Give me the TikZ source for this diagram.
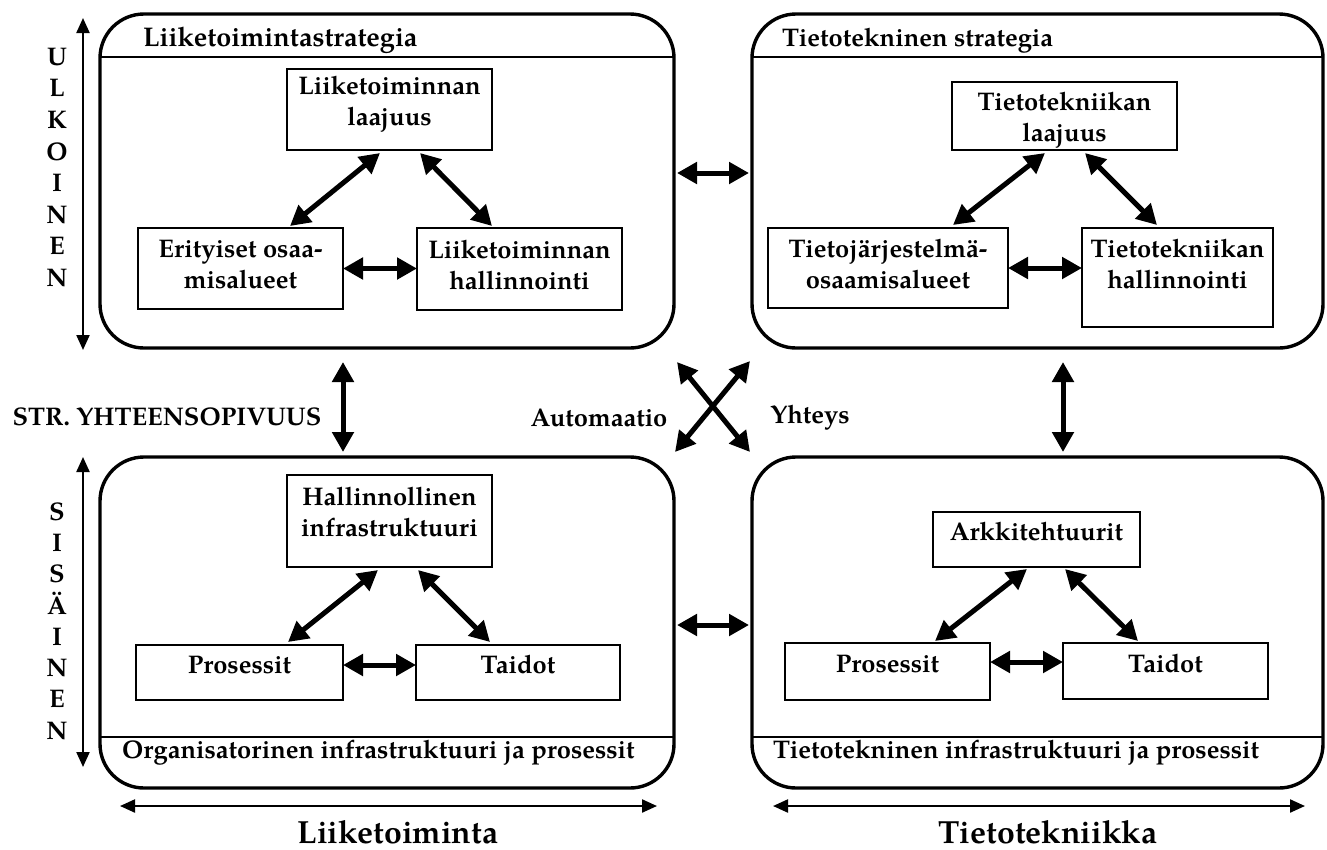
\documentclass[tikz,border=0pt]{standalone}
\usepackage{fontspec}
\setmainfont{texgyrepagella}[Extension=.otf,UprightFont=*-regular,BoldFont=*-bold]
\usetikzlibrary{arrows.meta,calc}

\begin{document}
\begin{tikzpicture}[x=1pt,y=-1pt,
  every node/.style={font=\bfseries\fontsize{25.5}{31}\selectfont},
  bigbox/.style={draw, line width=3.4pt, rounded corners=44pt, anchor=north west, inner sep=0pt, outer sep=0pt},
  ibox/.style={draw, line width=1.8pt, anchor=north west, inner sep=0pt, outer sep=0pt},
  lbl/.style={align=center, inner sep=0pt},
  sepline/.style={line width=1.5pt},
  dbl/.style={line width=5pt, {Triangle[length=20pt,width=21pt]}-{Triangle[length=20pt,width=21pt]}},
  fine/.style={line width=2.2pt, {Triangle[length=15pt,width=13pt]}-{Triangle[length=15pt,width=13pt]}},
]
\useasboundingbox (0,0) rectangle (1327,849);

% four domains
\node[bigbox, minimum width=574pt, minimum height=334pt] (tl) at (100,14) {};
\node[bigbox, minimum width=571pt, minimum height=334pt] (tr) at (752,14) {};
\node[bigbox, minimum width=574pt, minimum height=331pt] (bl) at (100,457) {};
\node[bigbox, minimum width=571pt, minimum height=331pt] (br) at (752,457) {};

% title strips
\draw[sepline] ($(tl.north west)+(0,43)$) -- ($(tl.north east)+(0,43)$);
\draw[sepline] ($(tr.north west)+(0,43)$) -- ($(tr.north east)+(0,43)$);
\draw[sepline] ($(bl.south west)+(0,-51)$) -- ($(bl.south east)+(0,-51)$);
\draw[sepline] ($(br.south west)+(0,-51)$) -- ($(br.south east)+(0,-51)$);

\node[anchor=base west, inner sep=0pt, font=\bfseries\fontsize{27}{31}\selectfont] (tlt) at (143,46) {Liiketoimintastrategia};
\node[anchor=base west, inner sep=0pt] (trt) at (782,46) {Tietotekninen strategia};
\node[anchor=base west, inner sep=0pt] (blt) at (122,758) {Organisatorinen infrastruktuuri ja prosessit};
\node[anchor=base west, inner sep=0pt] (brt) at (773,758) {Tietotekninen infrastruktuuri ja prosessit};

% inner boxes
\node[ibox, minimum width=205pt, minimum height=81pt] (a1) at (287,69) {};
\node[ibox, minimum width=205pt, minimum height=81pt] (a2) at (138,228) {};
\node[ibox, minimum width=205pt, minimum height=82pt] (a3) at (417,228) {};
\node[ibox, minimum width=225pt, minimum height=68pt] (b1) at (952,82) {};
\node[ibox, minimum width=240pt, minimum height=80pt] (b2) at (768,228) {};
\node[ibox, minimum width=191pt, minimum height=99pt] (b3) at (1082,228) {};
\node[ibox, minimum width=205pt, minimum height=92pt] (c1) at (287,475) {};
\node[ibox, minimum width=207pt, minimum height=55pt] (c2) at (136,645) {};
\node[ibox, minimum width=204pt, minimum height=55pt] (c3) at (416,645) {};
\node[ibox, minimum width=207pt, minimum height=55pt] (d1) at (933,512) {};
\node[ibox, minimum width=205pt, minimum height=57pt] (d2) at (785,643) {};
\node[ibox, minimum width=205pt, minimum height=56pt] (d3) at (1063,643) {};

\node[lbl] (a1t) at (389.5,104.5) {Liiketoiminnan\\laajuus};
\node[lbl] (a2t) at (240.5,265) {Erityiset osaa-\\misalueet};
\node[lbl] (a3t) at (519.5,265) {Liiketoiminnan\\hallinnointi};
\node[lbl] (b1t) at (1064.5,120) {Tietotekniikan\\laajuus};
\node[lbl] (b2t) at (888,264) {Tietojärjestelmä-\\osaamisalueet};
\node[lbl] (b3t) at (1177.5,264) {Tietotekniikan\\hallinnointi};
\node[lbl] (c1t) at (389.5,512) {Hallinnollinen\\infrastruktuuri};
\node[lbl] (c2t) at (239.5,665) {Prosessit};
\node[lbl] (c3t) at (518,665) {Taidot};
\node[lbl] (d1t) at (1036.5,532) {Arkkitehtuurit};
\node[lbl] (d2t) at (887.5,664) {Prosessit};
\node[lbl] (d3t) at (1165.5,664) {Taidot};

% links inside the domains
\draw[dbl] ($(a1.south)+(-9.5,3)$) -- ($(a2.north)+(49.5,-2)$);
\draw[dbl] ($(a1.south)+(30.5,3)$) -- ($(a3.north)+(-27.5,-2)$);
\draw[dbl] (a2.east) -- (a3.west |- a2.east);

\draw[dbl] ($(b1.south)+(-19.5,3)$) -- ($(b2.north)+(65,-3)$);
\draw[dbl] ($(b1.south)+(20.5,3)$) -- ($(b3.north)+(-20.5,-3)$);
\draw[dbl] (b2.east) -- (b3.west |- b2.east);

\draw[dbl] ($(c1.south)+(-11.5,3)$) -- ($(c2.north)+(48.5,-3)$);
\draw[dbl] ($(c1.south)+(28.5,3)$) -- ($(c3.north)+(-28,-3)$);
\draw[dbl] ($(c2.north east)+(0,20)$) -- ($(c3.north west)+(0,20)$);

\draw[dbl] ($(d1.south)+(-9.5,2)$) -- ($(d2.north)+(47.5,-2)$);
\draw[dbl] ($(d1.south)+(28.5,2)$) -- ($(d3.north)+(-27.5,-2)$);
\draw[dbl] ($(d2.north east)+(0,19)$) -- ($(d3.north west)+(0,19)$);

% links between the domains
\draw[dbl] ($(tl.east)+(3,-8)$) -- ($(tr.west)+(-3,-8)$);
\draw[dbl] ($(bl.east)+(3,2.5)$) -- ($(br.west)+(-3,2.5)$);
\draw[dbl] ($(tl.south)+(-44,14)$) -- ($(bl.north)+(-44,-5)$);
\draw[dbl] ($(tr.south)+(25.5,14)$) -- ($(br.north)+(25.5,-5)$);
\draw[dbl] ($(tl.south east)+(3,14)$) -- ($(br.north west)+(-2,-5)$);
\draw[dbl] ($(tr.south west)+(-2,13)$) -- ($(bl.north east)+(1,-5)$);

\node (str) at (167,417) {STR. YHTEENSOPIVUUS};
\node (aut) at (599,418) {Automaatio};
\node (yht) at (810,418) {Yhteys};

% axes
\node[lbl, font=\bfseries\fontsize{25.5}{31.6}\selectfont] (ulk) at (57,167.5) {U\\L\\K\\O\\I\\N\\E\\N};
\node[lbl, font=\bfseries\fontsize{25.5}{31.3}\selectfont] (sis) at (57,621) {S\\I\\S\\Ä\\I\\N\\E\\N};

\coordinate (u1) at (83,18);   \coordinate (u2) at (83,350);
\coordinate (s1) at (83,457);  \coordinate (s2) at (83,767);
\coordinate (l1) at (120,806); \coordinate (l2) at (657,806);
\coordinate (t1) at (773,806); \coordinate (t2) at (1305,806);
\draw[fine] (u1) -- (u2);
\draw[fine] (s1) -- (s2);
\draw[fine] (l1) -- (l2);
\draw[fine] (t1) -- (t2);

\node[font=\bfseries\fontsize{32}{38}\selectfont] (liik) at (398,832) {Liiketoiminta};
\node[font=\bfseries\fontsize{32}{38}\selectfont] (tiet) at (1048,832) {Tietotekniikka};
\end{tikzpicture}
\end{document}
